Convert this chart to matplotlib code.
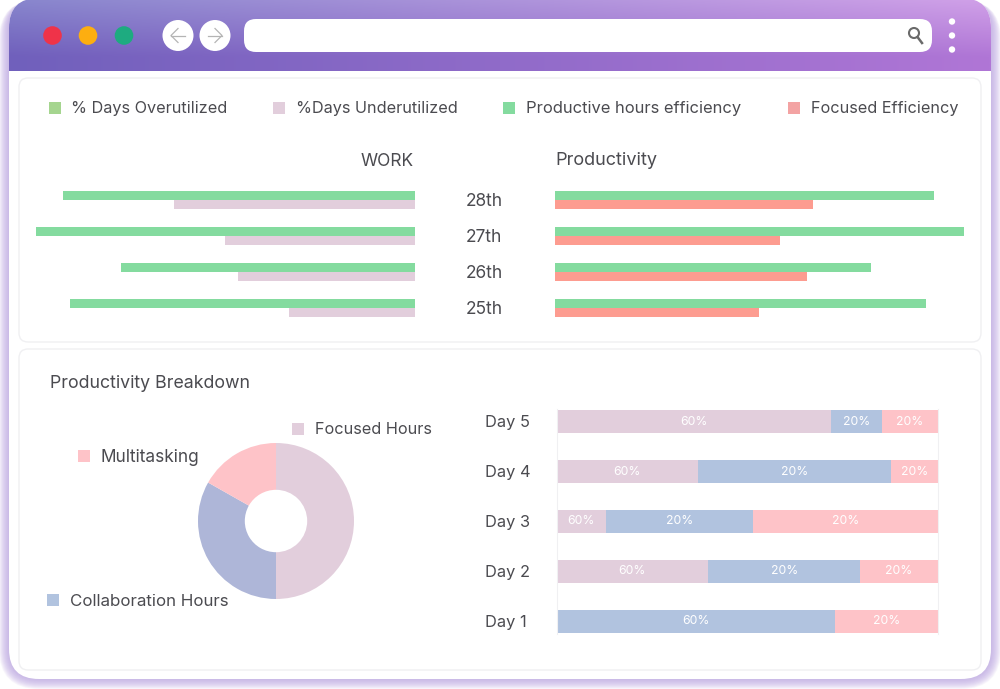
import numpy as np
import matplotlib
matplotlib.use('Agg')
import matplotlib.pyplot as plt
from matplotlib.patches import FancyBboxPatch, Circle, Rectangle
from matplotlib.transforms import ScaledTranslation

plt.rcParams['font.family'] = ['Inter', 'DejaVu Sans']

W, H = 1000, 689

# Top charts
dates = ['28th', '27th', '26th', '25th']
overutilized = [92.7, 100, 77.4, 90.9]
underutilized = [63.5, 50, 46.6, 33.1]
productive = [92.7, 100, 77.3, 90.7]
focused = [63.1, 55, 61.6, 49.9]

# Donut
pie_labels = ['Focused Hours', 'Collaboration Hours', 'Multitasking']
pie_values = [50, 33.2, 16.8]

# Stacked bars
days = ['Day 5', 'Day 4', 'Day 3', 'Day 2', 'Day 1']
stack_focused = [71.9, 37.1, 13, 39.8, 0]
stack_collab = [13.4, 50.5, 38.6, 39.8, 73]
stack_multi = [14.7, 12.4, 48.4, 20.4, 27]
focused_labels = ['60%', '60%', '60%', '60%', '']
collab_labels = ['20%', '20%', '20%', '20%', '60%']
multi_labels = ['20%', '20%', '20%', '20%', '20%']

legend_top = ['% Days Overutilized', '%Days Underutilized',
              'Productive hours efficiency', 'Focused Efficiency']

TEXT = '#4b4b50'
GREEN = '#84db9f'
MAUVE = '#e2cedc'
SALMON = '#fd9c90'
BLUE = '#b1c3df'
PINK = '#fec3c8'


def px_axes(x0, y0, x1, y1):
    # axes from pixel box, y measured from the top
    a = fig.add_axes([x0 / W, 1 - y1 / H, (x1 - x0) / W, (y1 - y0) / H])
    a.patch.set_alpha(0)
    return a


def rounded(x0, y0, x1, y1, r, **kw):
    return FancyBboxPatch((x0 + r, y0 + r), x1 - x0 - 2 * r, y1 - y0 - 2 * r,
                          boxstyle='round,pad=%g,rounding_size=%g' % (r, r), **kw)


fig = plt.figure(figsize=(W / 100, H / 100), dpi=100, facecolor='white')

# browser frame, drawn in pixel coordinates
bg = px_axes(0, 0, W, H)
bg.set_xlim(0, W)
bg.set_ylim(H, 0)
bg.axis('off')

# soft shadow
for grow in np.arange(10, 0, -1):
    bg.add_patch(rounded(9 - grow, 0, 991 + grow, 679 + grow, 30 + grow,
                         fc='#b9a2e0', ec='none', alpha=0.11))

window = rounded(9, -2, 991, 679, 30, fc='white', ec='none')
bg.add_patch(window)

# header gradient
gx = np.linspace(0, 1, 200)
gy = np.clip(np.linspace(0, 1, 60) * 1.25, 0, 1)
tl, bl = np.array([0x88, 0x86, 0xcd]), np.array([0x70, 0x60, 0xbc])
tr, br = np.array([0xd0, 0xa0, 0xe8]), np.array([0xb0, 0x76, 0xd6])
grad = np.zeros((60, 200, 3))
for c in range(3):
    left = tl[c] + (bl[c] - tl[c]) * gy
    right = tr[c] + (br[c] - tr[c]) * gy
    grad[:, :, c] = np.outer(left, 1 - gx) + np.outer(right, gx)
im = bg.imshow(grad / 255, extent=(9, 991, 71, 0), aspect='auto', zorder=2)
im.set_clip_path(window)
bg.set_xlim(0, W)
bg.set_ylim(H, 0)

for x, col in zip([52.5, 88, 124], ['#ef3349', '#fdae10', '#1eab80']):
    bg.add_patch(Circle((x, 35.5), 9.3, fc=col, ec='none', zorder=3))
for x in [178, 215]:
    bg.add_patch(Circle((x, 35.5), 15.5, fc='white', ec='none', zorder=3))
bg.plot([171, 185], [35.5, 35.5], color='#b4b4b4', lw=0.9, zorder=4)
bg.plot([178, 171, 178], [28.5, 35.5, 42.5], color='#b4b4b4', lw=0.9, zorder=4)
bg.plot([208, 222], [35.5, 35.5], color='#b4b4b4', lw=0.9, zorder=4)
bg.plot([215, 222, 215], [28.5, 35.5, 42.5], color='#b4b4b4', lw=0.9, zorder=4)
bg.add_patch(rounded(244, 19, 932, 52, 12, fc='white', ec='none', zorder=3))
bg.add_patch(Circle((914, 33), 5, fc='none', ec='#6a6a6a', lw=1.5, zorder=4))
bg.plot([917.5, 922], [37, 43], color='#6a6a6a', lw=1.8, zorder=4)
for y in [21.5, 35.5, 49.5]:
    bg.add_patch(Circle((952, y), 3.2, fc='white', ec='none', zorder=3))

# panels
bg.add_patch(rounded(19, 78, 981, 342, 9, fc='white', ec='#f0f0f2', lw=1, zorder=3))
bg.add_patch(rounded(19, 349, 981, 670, 9, fc='white', ec='#f0f0f2', lw=1, zorder=3))


def legend_item(x, y, col, label, tx, size):
    bg.add_patch(Rectangle((x, y - 6), 12, 12, fc=col, ec='none', zorder=4))
    bg.text(tx, y + 1, label, color=TEXT, fontsize=size, va='center', zorder=4)


for x, col, label, tx, size in zip([48.5, 273, 503, 787.5],
                                   ['#a5d58f', MAUVE, GREEN, '#f3a3a3'],
                                   legend_top, [71, 296, 526, 811],
                                   [11.7, 11.7, 11.9, 11.7]):
    legend_item(x, 107.5, col, label, tx, size)

bg.text(414, 161, 'WORK', color=TEXT, fontsize=12.5, ha='right', va='center', zorder=4)
bg.text(555, 160.5, 'Productivity', color=TEXT, fontsize=13, va='center', zorder=4)
bg.text(50, 383, 'Productivity Breakdown', color=TEXT, fontsize=12.8, va='center', zorder=4)

legend_item(292, 429, MAUVE, pie_labels[0], 315, 11.7)
legend_item(47, 600, BLUE, pie_labels[1], 70, 12.2)
legend_item(78, 456, PINK, pie_labels[2], 101, 12.4)

# top bars
pos = np.arange(len(dates))
bar_h = 0.26

ax1 = px_axes(35.5, 182, 414.5, 326)
ax1.barh(pos - bar_h / 2, overutilized, bar_h, color=GREEN)
ax1.barh(pos + bar_h / 2, underutilized, bar_h, color=MAUVE)
ax1.set_xlim(100, 0)
ax1.set_ylim(3.5, -0.5)
ax1.axis('off')

ax2 = px_axes(555, 182, 964, 326)
ax2.barh(pos - bar_h / 2, productive, bar_h, color=GREEN)
ax2.barh(pos + bar_h / 2, focused, bar_h, color=SALMON)
ax2.set_xlim(0, 100)
ax2.set_ylim(3.5, -0.5)
ax2.set_xticks([])
ax2.set_yticks(pos)
ax2.set_yticklabels(dates, fontsize=12.5, color=TEXT, ha='center')
ax2.tick_params(axis='y', length=0, pad=51)
for lab, up in zip(ax2.get_yticklabels(), [0.5, 0.5, 1, 1]):
    lab.set_transform(lab.get_transform() + ScaledTranslation(0, up / 100, fig.dpi_scale_trans))
for s in ax2.spines.values():
    s.set_visible(False)

# donut
ax3 = px_axes(198, 443, 354, 599)
ax3.pie(pie_values, colors=[MAUVE, '#aeb6d8', PINK], startangle=90, counterclock=False,
        radius=1, wedgeprops={'width': 0.6})
ax3.set_xlim(-1, 1)
ax3.set_ylim(-1, 1)

# stacked bars
ax4 = px_axes(556.5, 396, 938, 645)
ypos = np.arange(len(days))
left = np.zeros(len(days))
for vals, col, labels in [(stack_focused, MAUVE, focused_labels),
                          (stack_collab, BLUE, collab_labels),
                          (stack_multi, PINK, multi_labels)]:
    bars = ax4.barh(ypos, vals, 0.46, left=left, color=col)
    ax4.bar_label(bars, labels=labels, label_type='center', color='white', fontsize=8.8)
    left = left + np.array(vals)
ax4.set_xlim(0, 100)
ax4.set_ylim(4.48, -0.52)
ax4.set_xticks([])
ax4.set_yticks(ypos)
ax4.set_yticklabels(days, fontsize=11.8, color=TEXT, ha='left')
ax4.tick_params(axis='y', length=0, pad=51.5)
for lab in ax4.get_yticklabels():
    lab.set_transform(lab.get_transform() + ScaledTranslation(0, 0.5 / 100, fig.dpi_scale_trans))
for side in ['top', 'bottom']:
    ax4.spines[side].set_visible(False)
for side in ['left', 'right']:
    ax4.spines[side].set_color('#f0f0f2')
    ax4.spines[side].set_bounds(-0.25, 4.26)

fig.savefig('out.png', dpi=100)
